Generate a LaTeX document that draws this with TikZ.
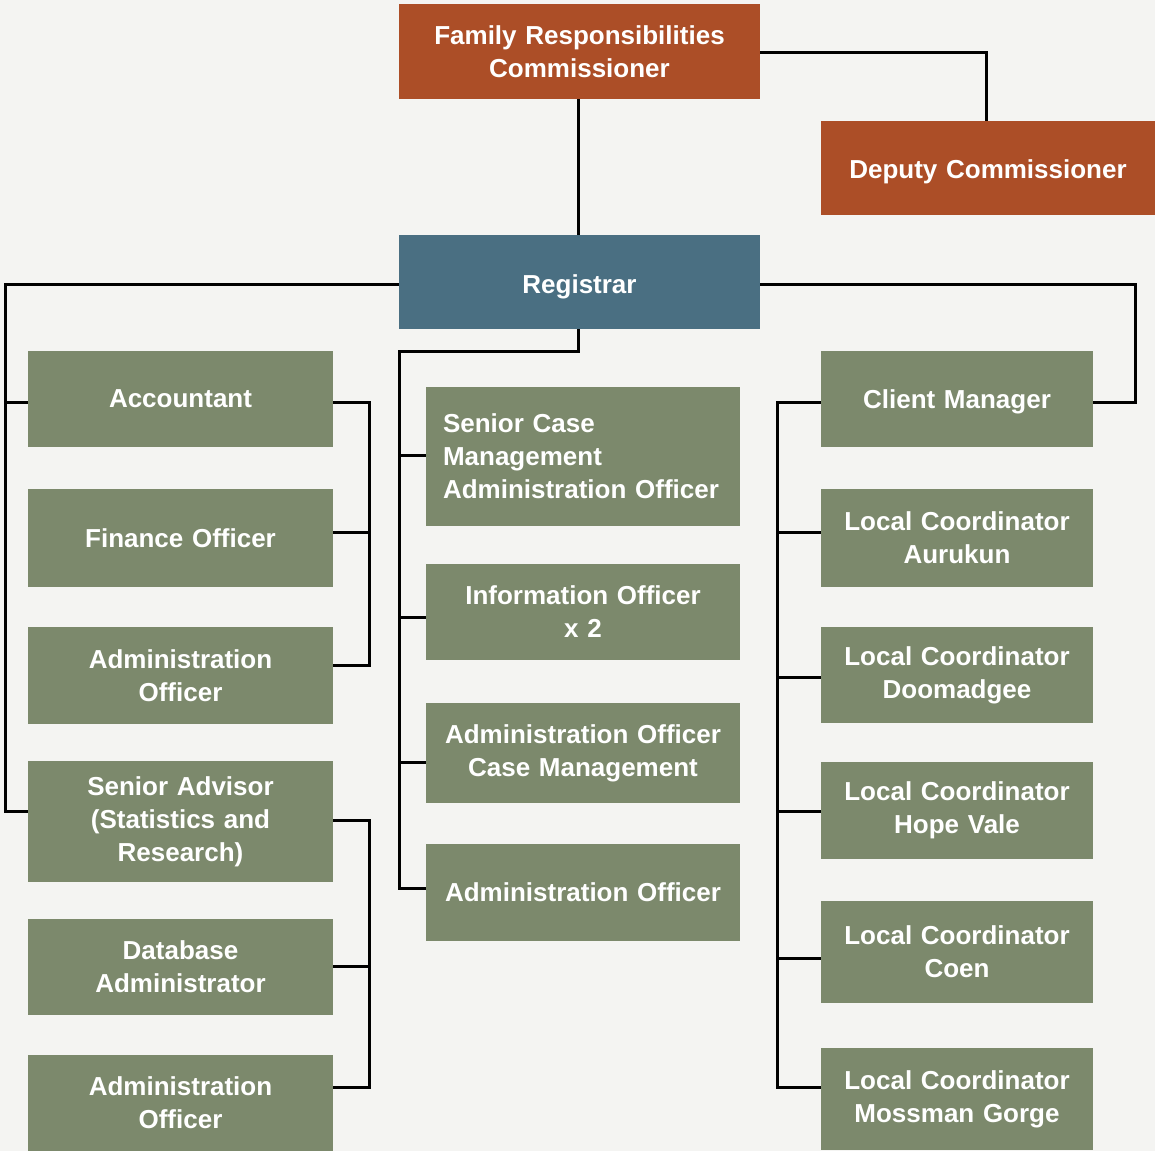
\documentclass[tikz,border=0pt]{standalone}
\usepackage{fontspec}
\setmainfont{Liberation Sans}
\definecolor{bgc}{HTML}{F4F4F2}
\definecolor{orng}{HTML}{AC4E27}
\definecolor{blu}{HTML}{4A6F82}
\definecolor{grn}{HTML}{7C896C}
\begin{document}
\begin{tikzpicture}[x=1pt,y=-1pt,
  box/.style={fill=grn, text=white, inner sep=0pt, align=center,
    font=\fontsize{26}{33}\selectfont\bfseries},
  lcol/.style={box, minimum width=305pt, text width=300pt},
  mcol/.style={box, minimum width=314pt, text width=300pt},
  rcol/.style={box, minimum width=272pt, text width=268pt},
  conn/.style={draw=black, line width=3pt, line join=miter}]
\useasboundingbox (0,0) rectangle (1155,1151);
\fill[bgc] (0,0) rectangle (1155,1151);
% top
\node[box, fill=orng, minimum width=361pt, minimum height=95pt, text width=350pt] (frc) at (579.5,51.5) {Family Responsibilities\\Commissioner};
\node[box, fill=orng, minimum width=334pt, minimum height=94pt, text width=330pt, text height=21pt, text depth=0pt] (dep) at (988,168) {Deputy Commissioner};
\node[box, fill=blu, minimum width=361pt, minimum height=94pt, text width=350pt, text height=23pt, text depth=0pt] (reg) at (579.5,282) {Registrar};
% left
\node[lcol, minimum height=96pt] (acc) at (180.5,399) {Accountant};
\node[lcol, minimum height=98pt] (fin) at (180.5,538) {Finance Officer};
\node[lcol, minimum height=97pt] (adm1) at (180.5,675.5) {Administration\\Officer};
\node[lcol, minimum height=121pt] (sen) at (180.5,821.5) {Senior Advisor\\(Statistics and\\Research)};
\node[lcol, minimum height=96pt] (db) at (180.5,967) {Database\\Administrator};
\node[lcol, minimum height=96pt] (adm2) at (180.5,1103) {Administration\\Officer};
% middle
\node[mcol, minimum height=139pt, text width=280pt, align=left] (scm) at (583,456.5) {Senior Case\\Management\\Administration Officer};
\node[mcol, minimum height=96pt] (info) at (583,612) {Information Officer\\x 2};
\node[mcol, minimum height=100pt] (aocm) at (583,753) {Administration Officer\\Case Management};
\node[mcol, minimum height=97pt] (adm3) at (583,892.5) {Administration Officer};
% right
\node[rcol, minimum height=96pt, text height=19pt, text depth=0pt] (cm) at (957,399) {Client Manager};
\node[rcol, minimum height=98pt] (aur) at (957,538) {Local Coordinator\\Aurukun};
\node[rcol, minimum height=96pt] (doo) at (957,675) {Local Coordinator\\Doomadgee};
\node[rcol, minimum height=97pt] (hv) at (957,810.5) {Local Coordinator\\Hope Vale};
\node[rcol, minimum height=102pt] (coen) at (957,952) {Local Coordinator\\Coen};
\node[rcol, minimum height=102pt] (moss) at (957,1099) {Local Coordinator\\Mossman Gorge};
% connectors top
\draw[conn] (frc.south -| 578,0) -- (reg.north -| 578,0);
\draw[conn] (frc.east |- 0,52) -- (986,52) -- (dep.north -| 986,0);
% left trunk
\draw[conn] (reg.west |- 0,284) -- (5,284) -- (5,811) -- (sen.west |- 0,811);
\draw[conn] (5,402) -- (acc.west |- 0,402);
% left group 1
\draw[conn] (acc.east |- 0,402) -- (369,402) -- (369,665) -- (adm1.east |- 0,665);
\draw[conn] (369,532) -- (fin.east |- 0,532);
% left group 2
\draw[conn] (sen.east |- 0,820) -- (369,820) -- (369,1087) -- (adm2.east |- 0,1087);
\draw[conn] (369,966) -- (db.east |- 0,966);
% middle trunk
\draw[conn] (reg.south -| 578,0) -- (578,351) -- (399,351) -- (399,888) -- (adm3.west |- 0,888);
\draw[conn] (399,455) -- (scm.west |- 0,455);
\draw[conn] (399,617) -- (info.west |- 0,617);
\draw[conn] (399,762) -- (aocm.west |- 0,762);
% right trunk
\draw[conn] (reg.east |- 0,284) -- (1135,284) -- (1135,402) -- (cm.east |- 0,402);
\draw[conn] (cm.west |- 0,402) -- (777,402) -- (777,1087) -- (moss.west |- 0,1087);
\draw[conn] (777,532) -- (aur.west |- 0,532);
\draw[conn] (777,677) -- (doo.west |- 0,677);
\draw[conn] (777,811) -- (hv.west |- 0,811);
\draw[conn] (777,958) -- (coen.west |- 0,958);
\end{tikzpicture}
\end{document}
